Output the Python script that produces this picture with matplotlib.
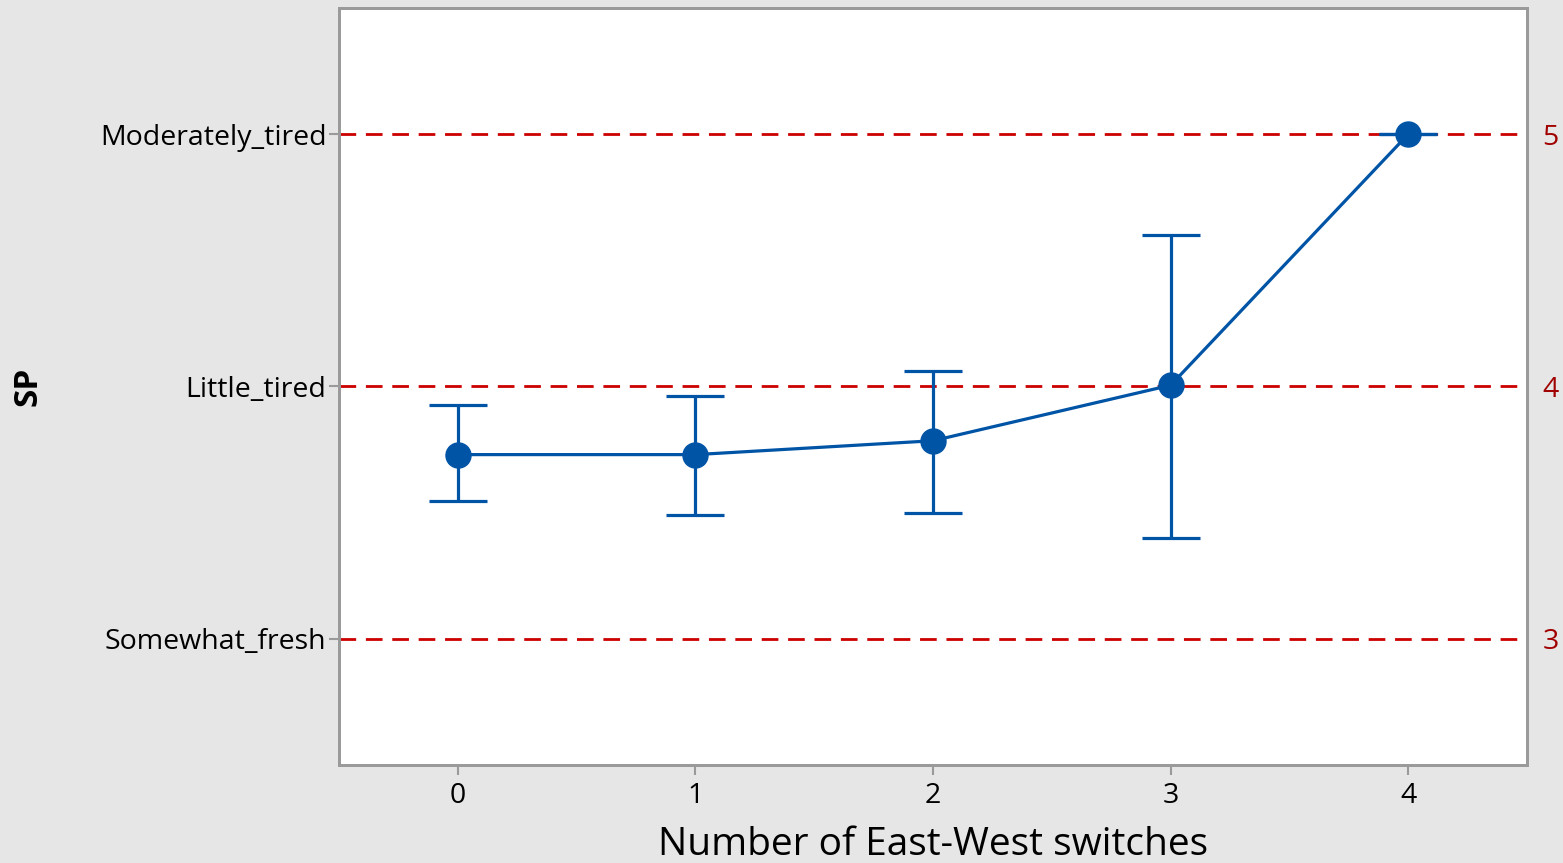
import numpy as np
import matplotlib.pyplot as plt

plt.rcParams['font.family'] = ['Open Sans', 'DejaVu Sans']

switches = [0, 1, 2, 3, 4]
sp_mean = [3.73, 3.73, 3.785, 4.005, 5.0]
ci_low = [3.545, 3.49, 3.498, 3.40, 5.0]
ci_high = [3.925, 3.963, 4.063, 4.602, 5.0]
levels = [3, 4, 5]
level_names = ['Somewhat_fresh', 'Little_tired', 'Moderately_tired']

blue = '#0054a6'
red = '#cc0000'
grey = '#9a9a9a'

fig = plt.figure(figsize=(15.63, 8.63), dpi=100, facecolor='#e6e6e6')
ax = fig.add_axes([0.2169, 0.1136, 0.7601, 0.8771])
ax.set_facecolor('white')

for lv in levels:
    ax.axhline(lv, color=red, lw=2.0, ls=(0, (6, 3.5)), zorder=1)

yerr = [np.array(sp_mean) - np.array(ci_low), np.array(ci_high) - np.array(sp_mean)]
ax.errorbar(switches, sp_mean, yerr=yerr, color=blue, lw=2.3, capsize=21,
            capthick=2.3, elinewidth=2.3, marker='o', markersize=18, zorder=3)

ax.set_xlim(-0.5, 4.5)
ax.set_ylim(2.5, 5.5)
ax.set_xticks(switches)
ax.set_yticks(levels)
ax.set_yticklabels(level_names)
ax.tick_params(axis='both', direction='out', length=7, width=1.5, color=grey,
               labelsize=20.5)
ax.tick_params(axis='y', pad=2)
ax.tick_params(axis='x', pad=5)

ax2 = ax.twinx()
ax2.set_ylim(ax.get_ylim())
ax2.set_yticks(levels)
ax2.set_yticklabels([str(v) for v in levels], color='#a00000')
ax2.tick_params(axis='y', length=0, labelsize=20.5, pad=11)

for a in (ax, ax2):
    for s in a.spines.values():
        s.set_color(grey)
        s.set_linewidth(2)

ax.set_xlabel('Number of East-West switches', fontsize=28, labelpad=12)
ax.set_ylabel('SP', fontsize=24, fontweight='bold', labelpad=40)

fig.savefig('out.png', dpi=100, facecolor=fig.get_facecolor())
